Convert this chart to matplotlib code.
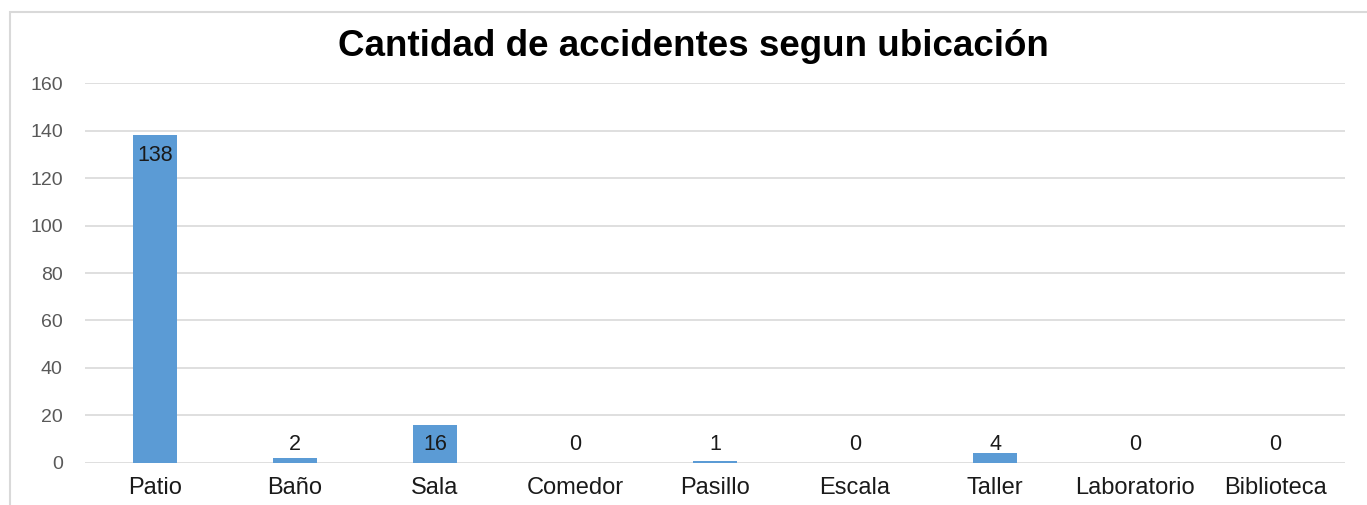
import matplotlib
matplotlib.use('Agg')
import matplotlib.pyplot as plt
from matplotlib.patches import Rectangle

ubicaciones = ["Patio", "Baño", "Sala", "Comedor", "Pasillo", "Escala",
               "Taller", "Laboratorio", "Biblioteca"]
accidentes = [138, 2, 16, 0, 1, 0, 4, 0, 0]
y_ticks = [0, 20, 40, 60, 80, 100, 120, 140, 160]

plt.rcParams['font.family'] = ['Liberation Sans', 'DejaVu Sans']

fig = plt.figure(figsize=(13.67, 5.05), dpi=100)
ax = fig.add_axes([0.0622, 0.0832, 0.9218, 0.7524])

x = list(range(len(ubicaciones)))
ax.bar(x, accidentes, width=0.31, color="#5B9BD5", zorder=3)

# etiquetas de datos: dentro del extremo para la barra alta, cerca de la base para las bajas
for xi, v in zip(x, accidentes):
    ax.text(xi, max(v - 8.5, 7.6), str(v), ha="center", va="center",
            fontsize=15.5, color="#1a1a1a", zorder=4)

ax.set_xlim(-0.5, len(ubicaciones) - 0.5)
ax.set_ylim(0, 160)
ax.set_yticks(y_ticks)
ax.set_xticks(x)
ax.set_xticklabels(ubicaciones, fontsize=17, color="#1a1a1a")
ax.tick_params(axis="y", labelsize=14, labelcolor="#595959", length=0, pad=16)
ax.tick_params(axis="x", length=0, pad=10)
ax.grid(axis="y", color="#D9D9D9", linewidth=1.2, zorder=0)
for s in ax.spines.values():
    s.set_visible(False)

fig.text(0.507, 0.908, "Cantidad de accidentes segun ubicación", ha="center",
         va="center", fontsize=26.5, fontweight="bold", color="black")

# marco del gráfico
fig.patches.append(Rectangle((10 / 1367, -0.2), 1.2, 1 - 12 / 505 + 0.2,
                             transform=fig.transFigure, fill=False,
                             edgecolor="#D9D9D9", linewidth=1.5))

fig.savefig("out.png", dpi=100)
